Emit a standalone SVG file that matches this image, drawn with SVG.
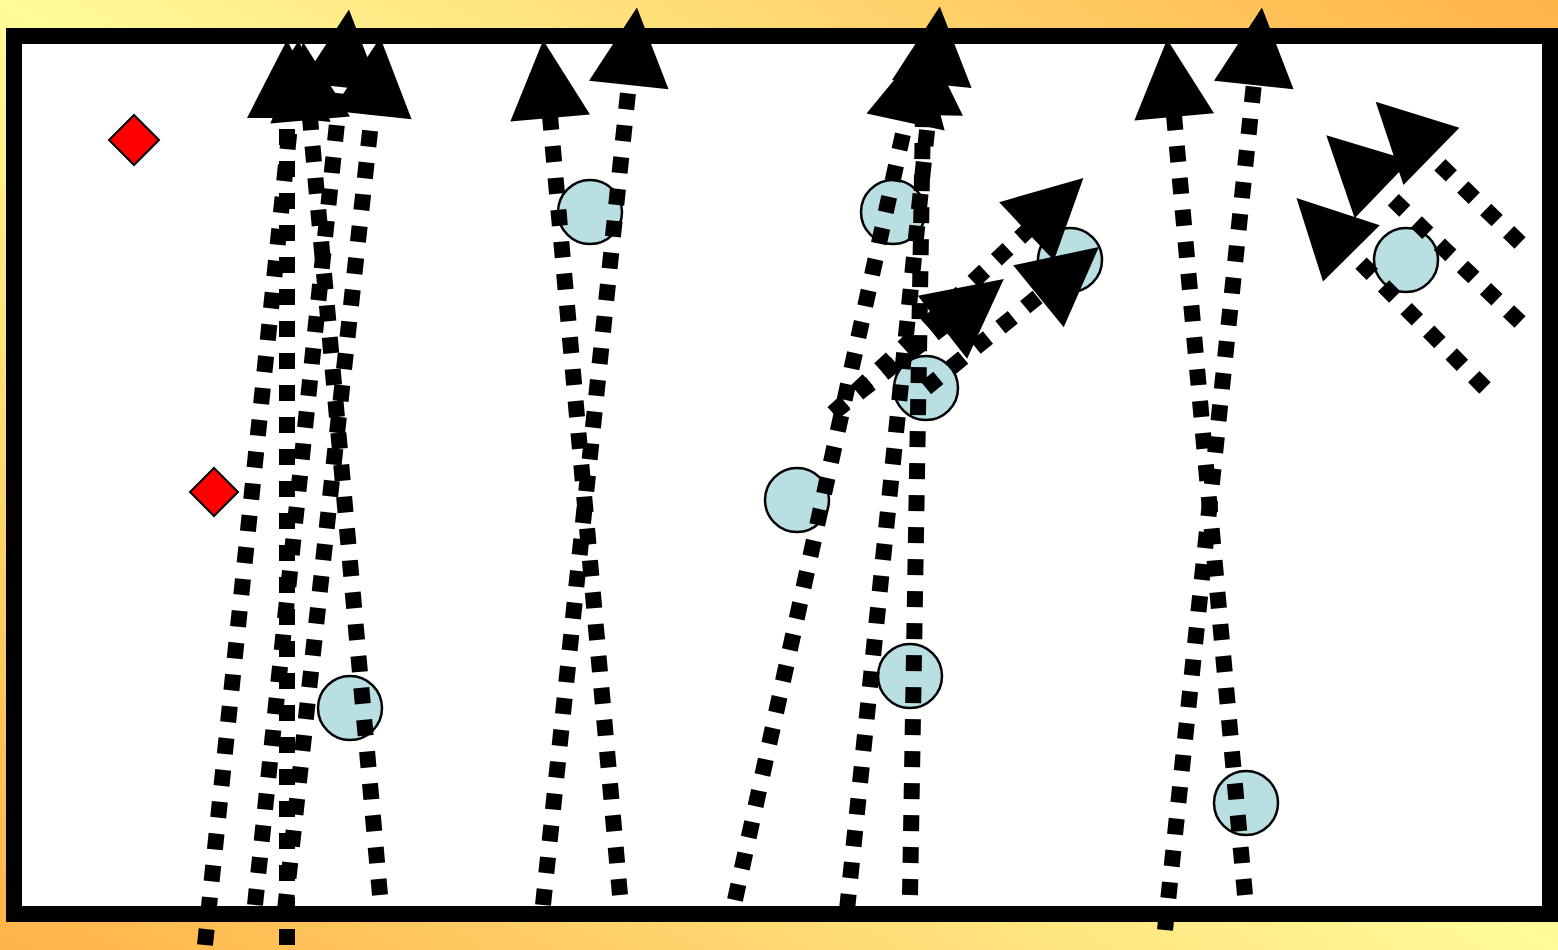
<svg xmlns="http://www.w3.org/2000/svg" width="1558" height="950" viewBox="0 0 1558 950">
<defs>
<linearGradient id="bg" x1="1" y1="0" x2="0" y2="1">
<stop offset="0" stop-color="#FFB347"/>
<stop offset="0.5" stop-color="#FFFB99"/>
<stop offset="1" stop-color="#FFB347"/>
</linearGradient>
<marker id="ah" markerUnits="userSpaceOnUse" markerWidth="80" markerHeight="80" viewBox="0 0 78 80" refX="2" refY="40" orient="auto" overflow="visible">
<path d="M0,0 L78,40 L0,80 z" fill="#000"/>
</marker>
<style>
.ln{fill:none;stroke:#000;stroke-width:16;stroke-dasharray:16 16;marker-end:url(#ah)}
.pl{fill:#BADFE3;stroke:#000;stroke-width:2.5}
.cn{fill:#FF0000;stroke:#000;stroke-width:2}
</style>
</defs>
<rect x="0" y="0" width="1558" height="950" fill="url(#bg)"/>
<rect x="14" y="36" width="1536" height="878" fill="#FFFFFF" stroke="#000" stroke-width="16"/>
<g id="nodes">
<g id="cone1"><polygon class="cn" points="134,115 159,140 134,165 109,140"/></g>
<g id="cone2"><polygon class="cn" points="214,468 238,492 214,516 190,492"/></g>
<g id="p1"><circle class="pl" cx="350" cy="708" r="32"/></g>
<g id="p2"><circle class="pl" cx="590" cy="212" r="32"/></g>
<g id="p3"><circle class="pl" cx="893" cy="212" r="32"/></g>
<g id="p4"><circle class="pl" cx="926" cy="388" r="32"/></g>
<g id="p5"><circle class="pl" cx="797" cy="500" r="32"/></g>
<g id="p6"><circle class="pl" cx="910" cy="676" r="32"/></g>
<g id="p7"><circle class="pl" cx="1070" cy="260" r="32"/></g>
<g id="p8"><circle class="pl" cx="1246" cy="803" r="32"/></g>
<g id="p9"><circle class="pl" cx="1406" cy="260" r="32"/></g>
</g>
<g id="connectors">
<path class="ln" d="M205,945 L291,116"/>
<path class="ln" d="M287,945 L287,116"/>
<path class="ln" d="M255,905 L341,85"/>
<path class="ln" d="M380,895 L310,118"/>
<path class="ln" d="M285,910 L372,113"/>
<path class="ln" d="M620,895 L550,116"/>
<path class="ln" d="M543,905 L629,83"/>
<path class="ln" d="M735,900 L906,120"/>
<path class="ln" d="M847,910 L932,82"/>
<path class="ln" d="M910,895 L923,113"/>
<path class="ln" d="M833,413 L1028,230"/>
<path class="ln" d="M833,413 L944,326"/>
<path class="ln" d="M926,388 L1040,295"/>
<path class="ln" d="M1245,895 L1174,115"/>
<path class="ln" d="M1165,930 L1254,83"/>
<path class="ln" d="M1520,243 L1430,155"/>
<path class="ln" d="M1520,322 L1381,188"/>
<path class="ln" d="M1485,388 L1350,252"/>
</g>
</svg>
